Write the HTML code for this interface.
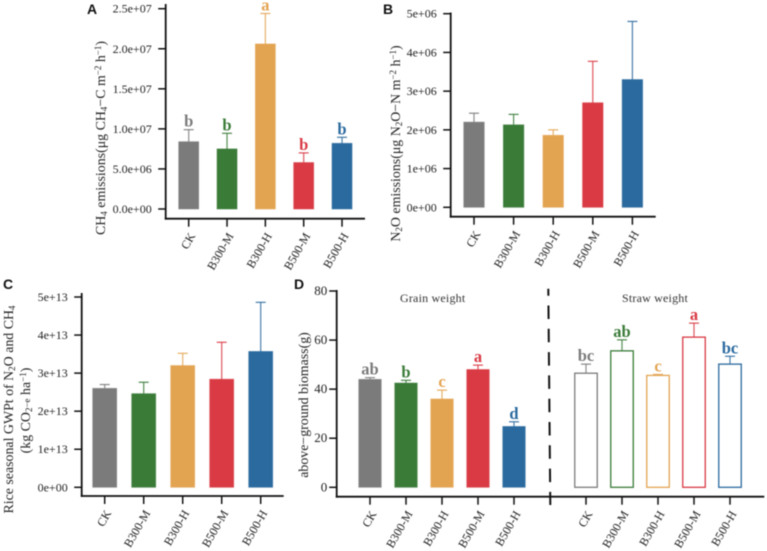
<!DOCTYPE html>
<html>
<head>
<meta charset="utf-8">
<style>
html,body{margin:0;padding:0;background:#fff;width:767px;height:551px;overflow:hidden}
svg{display:block;font-family:"Liberation Serif",serif;filter:blur(0.4px)}
.pl{font-family:"Liberation Sans",sans-serif;font-weight:bold;font-size:14px;fill:#111}
.yt{font-size:13.9px;fill:#222}
.sub{font-size:9px}
.grp{font-size:12px;fill:#333;text-anchor:middle;letter-spacing:.2px}
</style>
</head>
<body>
<svg id="chart" width="767" height="551" viewBox="0 0 767 551" xmlns="http://www.w3.org/2000/svg">
  <text class="pl" x="87" y="14">A</text>
  <text class="pl" x="383" y="14">B</text>
  <text class="pl" x="3" y="289">C</text>
  <text class="pl" x="294" y="289">D</text>

  <text class="yt" transform="translate(105,138) rotate(-90)" text-anchor="middle">CH<tspan class="sub" dy="2">4</tspan><tspan dy="-2"> emissions(μg CH</tspan><tspan class="sub" dy="2">4</tspan><tspan dy="-2">−C m</tspan><tspan class="sub" dy="-4">−2</tspan><tspan dy="4"> h</tspan><tspan class="sub" dy="-4">−1</tspan><tspan dy="4">)</tspan></text>
  <text class="yt" transform="translate(400,143.5) rotate(-90)" text-anchor="middle">N<tspan class="sub" dy="2">2</tspan><tspan dy="-2">O emissions(μg N</tspan><tspan class="sub" dy="2">2</tspan><tspan dy="-2">O−N m</tspan><tspan class="sub" dy="-4">−2</tspan><tspan dy="4"> h</tspan><tspan class="sub" dy="-4">−1</tspan><tspan dy="4">)</tspan></text>
  <text class="yt" transform="translate(13,409.5) rotate(-90)" text-anchor="middle">Rice seasonal GWPt of N<tspan class="sub" dy="2">2</tspan><tspan dy="-2">O and CH</tspan><tspan class="sub" dy="2">4</tspan></text>
  <text class="yt" transform="translate(30,410.5) rotate(-90)" text-anchor="middle">(kg CO<tspan class="sub" dy="2">2</tspan><tspan class="sub" dy="-2">−e</tspan><tspan> ha</tspan><tspan class="sub" dy="-4">−1</tspan><tspan dy="4">)</tspan></text>
  <text class="yt" transform="translate(308,405) rotate(-90)" text-anchor="middle">above−ground biomass(g)</text>

  <text class="grp" x="432.7" y="302">Grain weight</text>
  <text class="grp" x="655" y="302">Straw weight</text>
  <line x1="548.3" y1="288.7" x2="550.3" y2="505" stroke="#111" stroke-width="2" stroke-dasharray="13.5 9.8" stroke-dashoffset="6.5"/>
</svg>
<script>
const categories = ["CK", "B300-M", "B300-H", "B500-M", "B500-H"];
const colors = ["#7b7b7b", "#3a7b38", "#e3a452", "#d93a44", "#2b6a9e"];

const valuesA = [8.4e6, 7.5e6, 20.6e6, 5.8e6, 8.2e6];
const errTopA = [9.9e6, 9.45e6, 24.4e6, 7.0e6, 8.95e6];
const lettersA = ["b", "b", "a", "b", "b"];
const tickValuesA = [0, 5e6, 1e7, 1.5e7, 2e7, 2.5e7];
const tickLabelsA = ["0.0e+00", "5.0e+06", "1.0e+07", "1.5e+07", "2.0e+07", "2.5e+07"];

const valuesB = [2.2e6, 2.13e6, 1.86e6, 2.7e6, 3.3e6];
const errTopB = [2.43e6, 2.4e6, 2.0e6, 3.77e6, 4.8e6];
const lettersB = ["", "", "", "", ""];
const tickValuesB = [0, 1e6, 2e6, 3e6, 4e6, 5e6];
const tickLabelsB = ["0e+00", "1e+06", "2e+06", "3e+06", "4e+06", "5e+06"];

const valuesC = [2.6e13, 2.46e13, 3.2e13, 2.84e13, 3.57e13];
const errTopC = [2.7e13, 2.76e13, 3.52e13, 3.81e13, 4.86e13];
const lettersC = ["", "", "", "", ""];
const tickValuesC = [0, 1e13, 2e13, 3e13, 4e13, 5e13];
const tickLabelsC = ["0e+00", "1e+13", "2e+13", "3e+13", "4e+13", "5e+13"];

const grainValues = [44, 42.5, 36, 48, 24.8];
const grainErrTop = [44.7, 43.6, 39.6, 49.8, 26.7];
const grainLetters = ["ab", "b", "c", "a", "d"];
const strawValues = [46.5, 55.6, 45.6, 61.2, 50.2];
const strawErrTop = [50.2, 60.1, 46, 66.9, 53.4];
const strawLetters = ["bc", "ab", "c", "a", "bc"];
const tickValuesD = [0, 20, 40, 60, 80];
const tickLabelsD = ["0", "20", "40", "60", "80"];

const NS = "http://www.w3.org/2000/svg";
const svg = document.getElementById("chart");

function make(tag, attrs, text) {
  const el = document.createElementNS(NS, tag);
  for (const k in attrs) el.setAttribute(k, attrs[k]);
  if (text !== undefined) el.textContent = text;
  svg.appendChild(el);
  return el;
}

function linearScale(d0, d1, r0, r1) {
  return function (v) { return r0 + (v - d0) / (d1 - d0) * (r1 - r0); };
}

function drawAxes(name, p, tickValues, tickLabels) {
  const y = linearScale(tickValues[0], tickValues[tickValues.length - 1], p.yZero, p.yMax);
  const yAxis = make("line", { x1: p.axisX, y1: p.axisTop, x2: p.axisX, y2: p.axisY + 0.9, stroke: "#111", "stroke-width": 1.8 });
  
  
  const xAxis = make("line", { x1: p.axisX - 0.9, y1: p.axisY, x2: p.axisEnd, y2: p.axisY, stroke: "#111", "stroke-width": 1.8 });
  
  
  tickValues.forEach(function (v, i) {
    const tick = make("line", { x1: p.axisX - 7.5, y1: y(v), x2: p.axisX, y2: y(v), stroke: "#111", "stroke-width": 1.5 });
    
    
    const label = make("text", { x: p.axisX - p.labelGap, y: y(v) + 4, "text-anchor": "end", "font-size": p.tickFont, fill: "#222" }, tickLabels[i]);
    
    
  });
  return y;
}

function drawSeries(name, p, y, x0, step, values, errTop, letters, hollow) {
  values.forEach(function (v, i) {
    const cx = x0 + i * step;
    const c = colors[i];
    const top = y(v);
    const errY = y(errTop[i]);

    const whisker = make("line", { x1: cx, y1: top, x2: cx, y2: errY, stroke: c, "stroke-width": 1.2, "stroke-opacity": 0.85 });
    
    
    const cap = make("line", { x1: cx - 5, y1: errY, x2: cx + 5, y2: errY, stroke: c, "stroke-width": 1.2, "stroke-opacity": 0.9 });
    
    

    const bar = make("rect", hollow
      ? { x: cx - p.barW / 2, y: top, width: p.barW, height: p.yZero - top, fill: "#fff", stroke: c, "stroke-width": 1.3 }
      : { x: cx - p.barW / 2, y: top, width: p.barW, height: p.yZero - top, fill: c, stroke: c, "stroke-opacity": 0.6, "stroke-width": 0.8 });
    
    

    if (letters[i]) {
      const sig = make("text", { x: cx, y: errY - 3, "text-anchor": "middle", "font-size": 16.5, "font-weight": "bold", fill: c }, letters[i]);
      
      
    }

    const tick = make("line", { x1: cx, y1: p.axisY, x2: cx, y2: p.axisY + 8, stroke: "#111", "stroke-width": 1.5 });
    
    

    const lx = cx + 7;
    const ly = p.axisY + 17;
    const label = make("text", { x: lx, y: ly, "text-anchor": "end", "font-size": 12, fill: "#222", transform: "rotate(-60 " + lx + " " + ly + ")" }, categories[i]);
    
    
  });
}

const layoutA = { axisX: 165.7, axisY: 218.7, axisTop: 4, axisEnd: 365, yZero: 209, yMax: 8.7, barW: 20, labelGap: 14, tickFont: 12 };
const layoutB = { axisX: 450.7, axisY: 216.7, axisTop: 12.5, axisEnd: 655.7, yZero: 207.3, yMax: 13.7, barW: 20.5, labelGap: 14, tickFont: 12 };
const layoutC = { axisX: 81.7, axisY: 496, axisTop: 293, axisEnd: 283.7, yZero: 487.3, yMax: 297, barW: 24, labelGap: 14, tickFont: 12 };
const layoutD = { axisX: 336.7, axisY: 496.7, axisTop: 290, axisEnd: 764.3, yZero: 487.3, yMax: 291, barW: 22.5, labelGap: 9.5, tickFont: 13 };

const yA = drawAxes("panel-a", layoutA, tickValuesA, tickLabelsA);
drawSeries("panel-a", layoutA, yA, 188.7, 38.33, valuesA, errTopA, lettersA, false);

const yB = drawAxes("panel-b", layoutB, tickValuesB, tickLabelsB);
drawSeries("panel-b", layoutB, yB, 474, 39.6, valuesB, errTopB, lettersB, false);

const yC = drawAxes("panel-c", layoutC, tickValuesC, tickLabelsC);
drawSeries("panel-c", layoutC, yC, 104.7, 39, valuesC, errTopC, lettersC, false);

const yD = drawAxes("panel-d", layoutD, tickValuesD, tickLabelsD);
drawSeries("panel-d-grain", layoutD, yD, 370, 36, grainValues, grainErrTop, grainLetters, false);
drawSeries("panel-d-straw", layoutD, yD, 586, 36, strawValues, strawErrTop, strawLetters, true);
</script>
</body>
</html>
